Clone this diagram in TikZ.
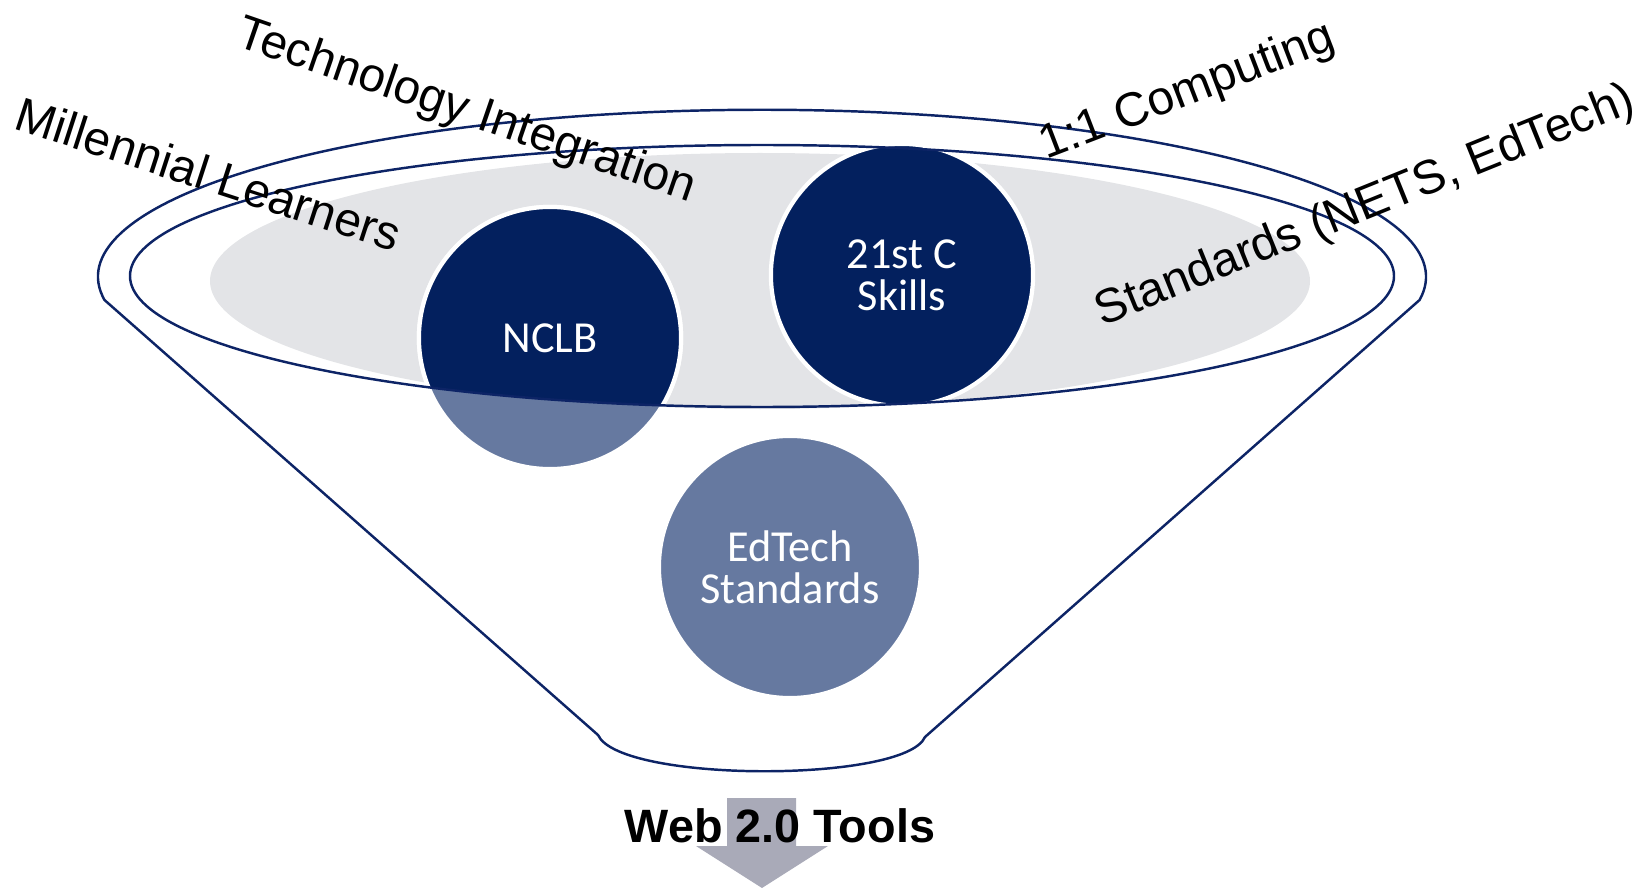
\documentclass[tikz,border=0pt]{standalone}
\usepackage{fontspec}
\setmainfont{Liberation Sans}
\newfontfamily\circfont{Carlito}
\usetikzlibrary{positioning}
\definecolor{navy}{HTML}{03205E}
\definecolor{slate}{HTML}{6679A0}
\definecolor{rim}{HTML}{0D2466}
\definecolor{mist}{HTML}{E3E4E7}
\definecolor{pointer}{HTML}{A9AAB8}
\tikzset{%
  every topic/.style={
    circle,
    draw=white,
    line width=1.2pt,
    minimum size=2.62cm,
    text=white,
    align=center,
    font=\circfont\fontsize{12.6}{12}\selectfont
  },
  topic dark/.style={fill=navy},
  topic light/.style={fill=slate},
  trend/.style={
    anchor=base west,
    inner sep=0pt,
    font=\fontsize{13.6}{16}\selectfont
  },
}

\begin{document}
\begin{tikzpicture}[x=0.01cm, y=-0.01cm]
            \useasboundingbox (0,0) rectangle (1651,888);

            % Gray disc inside the rim
            \fill [mist] (760,281) ellipse [x radius=550, y radius=128];

            % Circles
            \node [every topic, topic light] (nclb) at (550,338) {};
            \begin{scope}
              \clip (762,276) ellipse [x radius=632, y radius=131];
              \node [every topic, topic dark] (nclb-top) at (nclb) {NCLB};
            \end{scope}
            \node [every topic, topic dark] (skills) at (902,275) {21st C\\Skills};
            \node [every topic, topic light] (edtech) at (790,567) {EdTech\\Standards};

            % Funnel and rim
            \draw [rim, line width=0.7pt] (104.5,300)
              arc [start angle=172, end angle=368, x radius=664, y radius=167]
              -- (925,737) .. controls (905,783) and (620,783) .. (598,735) -- cycle;
            \draw [rim, line width=0.7pt] (762,276) ellipse [x radius=632, y radius=131];

            % Trends written round the rim
            \foreach \n/\x/\y/\a/\t in {techint/234/45/-19/Technology Integration,
                millennial/12/128/-18/Millennial Learners,
                onetoone/1046/160/21/1:1 Computing,
                standards/1102/327/22/{Standards (NETS, EdTech)}}
              \node [trend, rotate=\a] (\n) at (\x,\y) {\t};

            % Output arrow
            \fill [pointer] (727,798) -- (796,798) -- (796,846) -- (828,846)
              -- (762,888) -- (696,846) -- (727,846) -- cycle;
            \node [anchor=base, font=\bfseries\fontsize{13.3}{16}\selectfont] (tools) at (780,842) {Web 2.0 Tools};

\end{tikzpicture}
\end{document}
